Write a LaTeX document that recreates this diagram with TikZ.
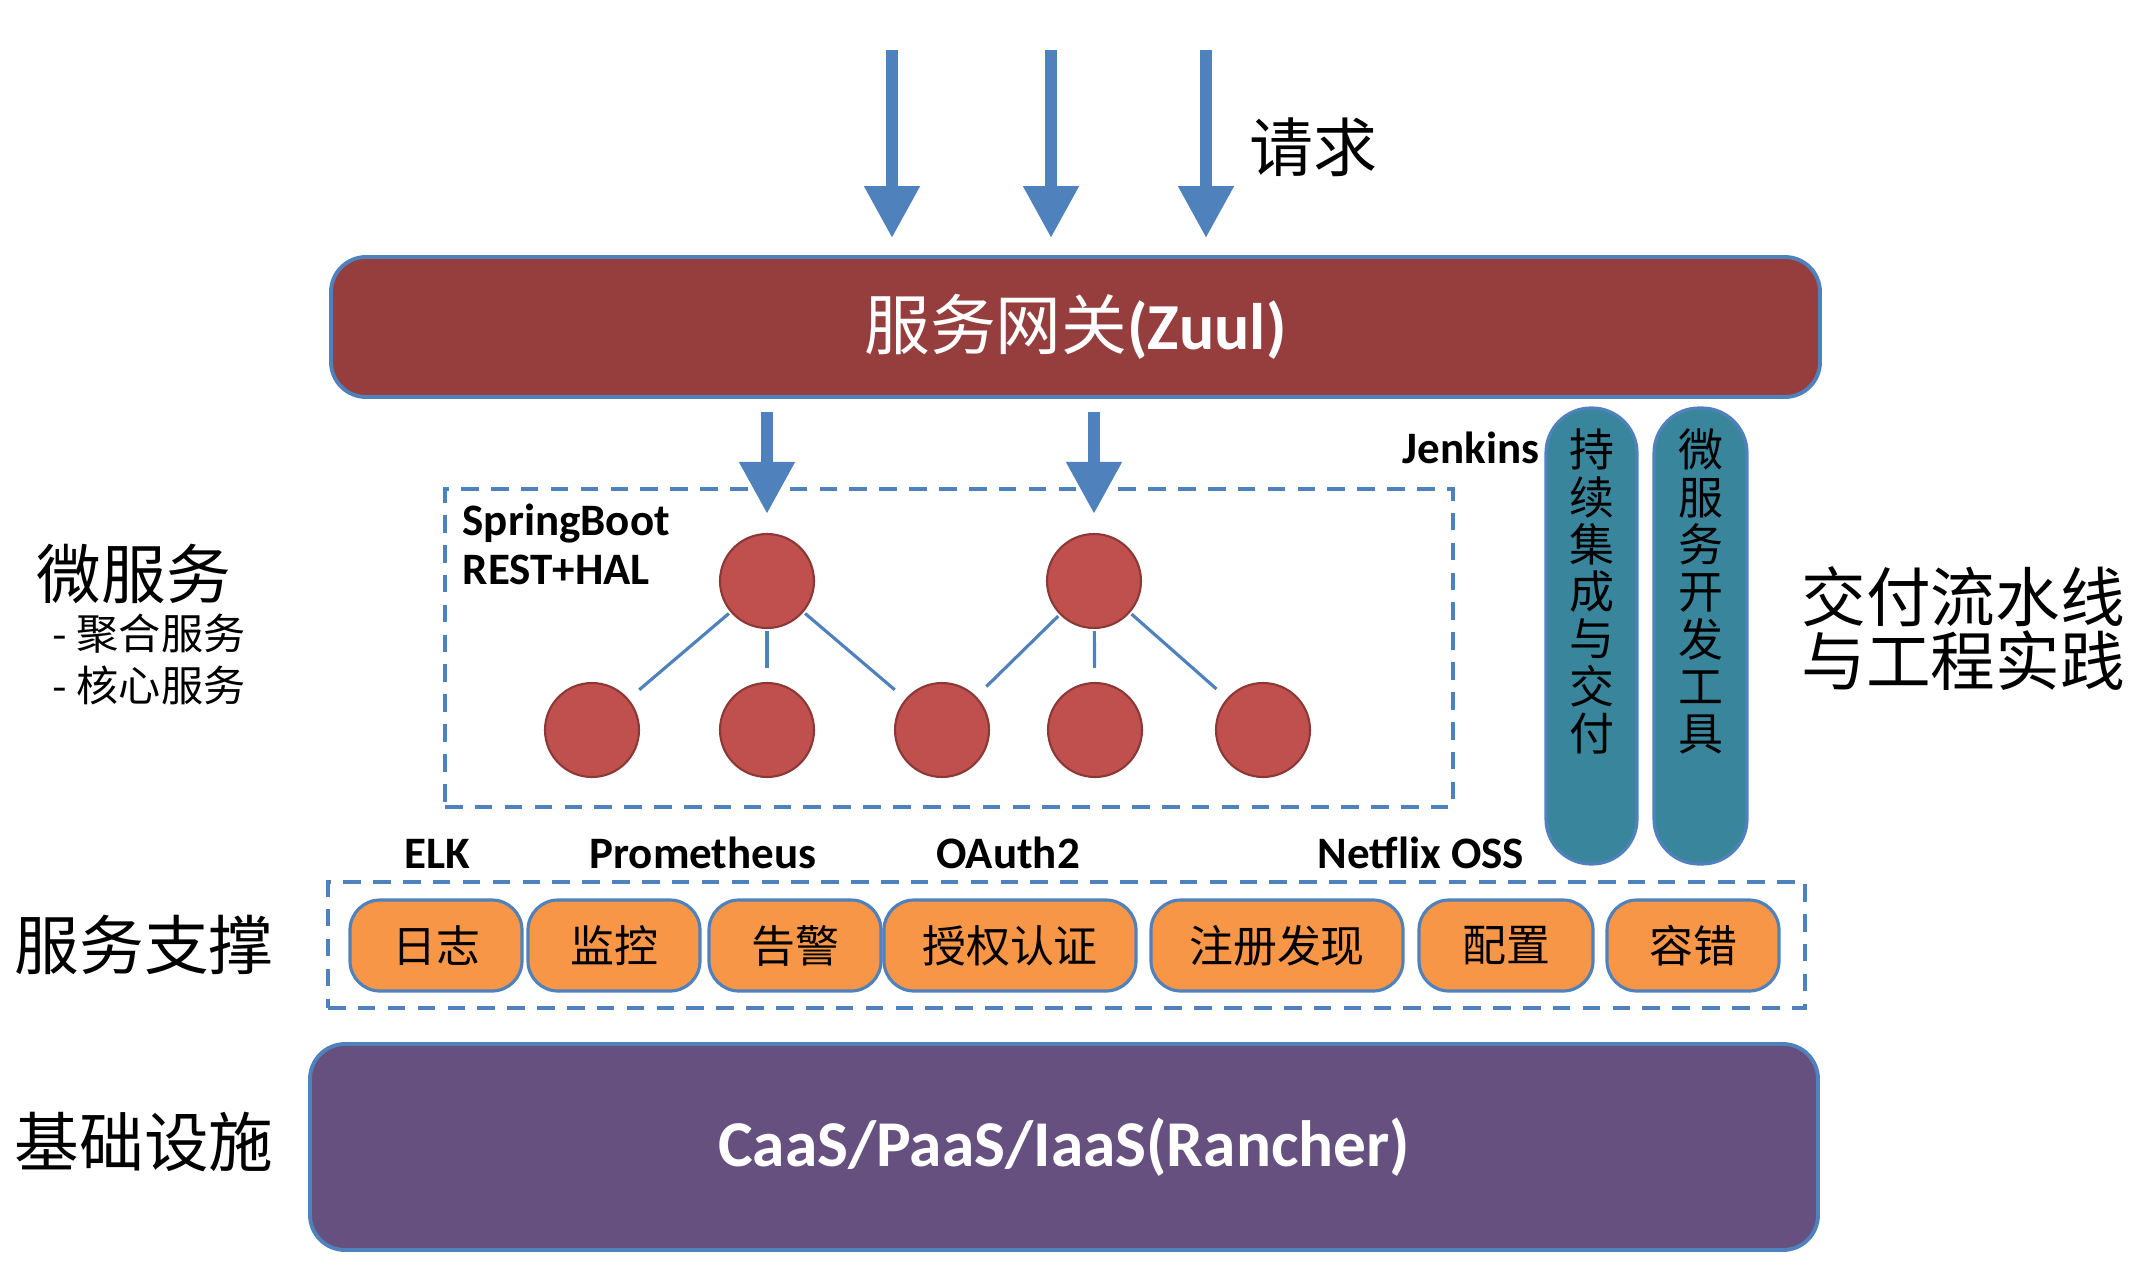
\documentclass[tikz,border=0pt]{standalone}
\usepackage{fontspec}
\setmainfont{Carlito}
\newfontfamily\cjk{Noto Sans CJK SC}
\usetikzlibrary{arrows.meta}
\definecolor{edgeblue}{RGB}{79,129,189}
\definecolor{gatered}{RGB}{150,62,62}
\definecolor{svcred}{RGB}{192,80,77}
\definecolor{svcdark}{RGB}{140,56,54}
\definecolor{pillorange}{RGB}{247,150,70}
\definecolor{pipeteal}{RGB}{57,134,156}
\definecolor{infrapurple}{RGB}{101,80,128}
\begin{document}
\begin{tikzpicture}[
    layer/.style ={draw=edgeblue, line width=1.1pt, rounded corners=0.35cm, text=white},
    dashbox/.style ={draw=edgeblue, line width=0.9pt, dash pattern=on 5pt off 3.5pt},
    svc/.style ={circle, draw=svcdark, fill=svcred, line width=0.6pt, minimum size=0.94cm, inner sep=0pt},
    link/.style ={edgeblue, line width=0.9pt},
    pill/.style ={draw=edgeblue, fill=pillorange, line width=0.9pt, rounded corners=0.3cm, minimum height=0.91cm, inner sep=0pt, font=\fontsize{12.5}{12.5}\selectfont\cjk},
    column/.style ={draw=edgeblue, fill=pipeteal, line width=0.9pt, rounded corners=0.45cm, minimum height=4.56cm, inner sep=0pt},
    vtext/.style ={align=center, inner sep=0pt, font=\fontsize{12.8}{13.45}\selectfont\cjk},
    tool/.style ={inner sep=0pt, font=\bfseries\fontsize{12.8}{13.9}\selectfont},
    title/.style ={inner sep=0pt, font=\fontsize{18.4}{18.2}\selectfont\cjk},
    sub/.style ={inner sep=0pt, font=\fontsize{12}{14.8}\selectfont\cjk},
    down/.style ={edgeblue, line width=3.4pt, -{Triangle[width=15pt,length=14.8pt]}}]
   \useasboundingbox (0,0) rectangle (21.36,-12.76);
   \node[layer, fill=gatered, minimum width=14.89cm, minimum height=1.40cm, font=\fontsize{18.7}{18.7}\selectfont] (gw) at (10.755,-3.27) {{\cjk 服务网关}\textbf{(Zuul)}};
   \coordinate (q1) at (8.92,-0.50);
   \coordinate (q2) at (10.51,-0.50);
   \coordinate (q3) at (12.06,-0.50);
   \foreach \q in {q1,q2,q3}
     \draw[down, shorten >=0.17cm] (\q) -- (\q |- gw.north);
   \node[title, font=\fontsize{18.2}{18.2}\selectfont\cjk] (req) at (13.13,-1.47) {请求};

   \node[dashbox, minimum width=10.08cm, minimum height=3.18cm] (msb) at (9.49,-6.48) {};
   \node[tool, anchor=north west, align=left] (sb) at (4.62,-5.03) {SpringBoot\\REST+HAL};
   \node[svc] (a1) at (7.67,-5.81) {};
   \node[svc] (a2) at (10.94,-5.81) {};
   \foreach \x/\n in {5.92/1,7.67/2,9.42/3,10.95/4,12.63/5}
     \node[svc] (b\n) at (\x,-7.30) {};
   \foreach \s/\t in {a1/b1,a1/b2,a1/b3,a2/b3,a2/b4,a2/b5}
     \draw[link, shorten <=0.02cm, shorten >=0.14cm] (\s) -- (\t);
   \draw[down, shorten <=0.13cm, shorten >=0.19cm] (gw.south -| a1) -- (a1.north);
   \draw[down, shorten <=0.13cm, shorten >=0.19cm] (gw.south -| a2) -- (a2.north);

   \node[title, anchor=west] (ms) at (0.36,-5.74) {微服务};
   \node[sub, anchor=west, align=left] (msl) at (0.52,-6.59) {- 聚合服务\\- 核心服务};

   \node[column, minimum width=0.91cm] (ci) at (15.915,-6.36) {};
   \node[column, minimum width=0.93cm] (dt) at (17.005,-6.36) {};
   \node[vtext, anchor=north] (cit) at ([yshift=-0.22cm]ci.north) {持\\续\\集\\成\\与\\交\\付};
   \node[vtext, anchor=north] (dtt) at ([yshift=-0.22cm]dt.north) {微\\服\\务\\开\\发\\工\\具};
   \node[tool, anchor=base east] (jk) at (15.40,-4.63) {Jenkins};
   \node[title, align=left] (dp) at (19.63,-6.29) {交付流水线\\与工程实践};

   \node[tool, anchor=base] (elk) at (4.37,-8.68) {ELK};
   \node[tool, anchor=base] (pm) at (7.03,-8.68) {Prometheus};
   \node[tool, anchor=base] (oa) at (10.08,-8.68) {OAuth2};
   \node[tool, anchor=base] (nf) at (14.21,-8.68) {Netflix OSS};
   \node[dashbox, minimum width=14.77cm, minimum height=1.26cm] (spb) at (10.665,-9.45) {};
   \foreach \x/\w/\t/\n in {4.36/1.72/日志/1,6.14/1.72/监控/2,7.95/1.72/告警/3,10.10/2.52/授权认证/4,12.77/2.52/注册发现/5,15.06/1.74/配置/6,16.93/1.72/容错/7}
     \node[pill, minimum width=\w cm] (p\n) at (\x,-9.455) {\t};
   \node[title, anchor=west] (sp) at (0.14,-9.45) {服务支撑};

   \node[layer, fill=infrapurple, minimum width=15.08cm, minimum height=2.06cm, font=\bfseries\fontsize{18.6}{18.6}\selectfont] (ib) at (10.64,-11.47) {CaaS/PaaS/IaaS(Rancher)};
   \node[title, anchor=west] (ia) at (0.14,-11.42) {基础设施};
\end{tikzpicture}
\end{document}
